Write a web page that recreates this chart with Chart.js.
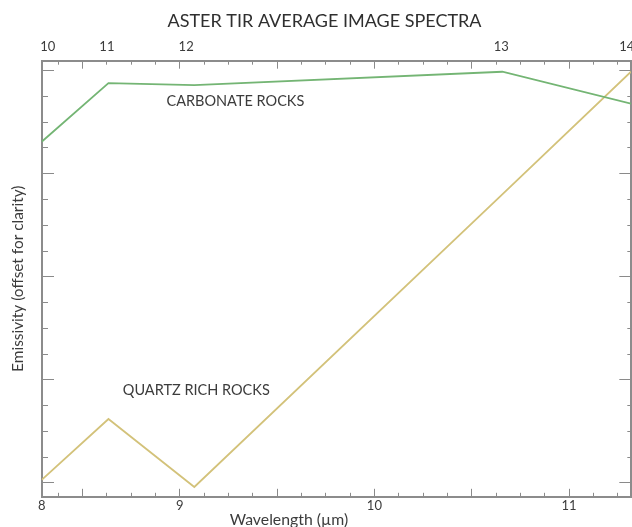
<!DOCTYPE html>
<html>
<head>
<meta charset="utf-8">
<title>ASTER TIR average image spectra</title>
<script src="https://cdn.jsdelivr.net/npm/chart.js@4.4.1/dist/chart.umd.min.js"></script>
<style>
  html, body { margin: 0; padding: 0; background: #fff; overflow: hidden; }
  /* a little wider than the window: the right edge of the plot is cut off like in the scan */
  .chart-box { position: relative; width: 645px; height: 527px; }
</style>
</head>
<body>
<div class="chart-box"><canvas id="spectra"></canvas></div>
<script>
// ASTER TIR band centres (um) and the band numbers printed on the top axis
var bandWavelengths = [8.291, 8.634, 9.075, 10.657, 11.318];
var bandNumbers = ['10', '11', '12', '13', '14'];
// the band numbers are printed slightly off their band centres
var bandLabelPositions = [8.322, 8.626, 9.033, 10.652, 11.296];

// average image emissivity (offset for clarity)
var carbonateRocks = [0.931, 0.988, 0.986, 0.999, 0.968];
var quartzRichRocks = [0.603, 0.662, 0.596, 0.880, 0.999];

// bottom axis: "8" is printed on the left edge of the plot
var wavelengthTicks = [8.291, 9, 10, 11];
var wavelengthLabels = ['8', '9', '10', '11'];
var wavelengthMajorTicks = [8.5, 9, 9.5, 10, 10.5, 11];
var wavelengthMinorTicks = [8.375, 8.5, 8.625, 8.75, 8.875, 9, 9.125, 9.25, 9.375, 9.5, 9.625, 9.75,
                            9.875, 10, 10.125, 10.25, 10.375, 10.5, 10.625, 10.75, 10.875, 11, 11.125, 11.25];
var emissivityMajorTicks = [0.6, 0.7, 0.8, 0.9, 1.0];
var emissivityMinorTicks = [0.6, 0.625, 0.65, 0.675, 0.7, 0.725, 0.75, 0.775, 0.8, 0.825, 0.85, 0.875,
                            0.9, 0.925, 0.95, 0.975, 1.0];

// series names written inside the plot
var seriesNotes = ['CARBONATE ROCKS', 'QUARTZ RICH ROCKS'];
var seriesNotesX = [9.286, 9.085];
var seriesNotesY = [0.970, 0.690];

(function () {
	'use strict';

	var FONT = 'Lato, "Open Sans", sans-serif';
	var AXIS = '#8c8c8c';
	var TICK = '#8a8a8a';
	var TEXT = '#3c3c3c';
	var xMin = 8.291, xMax = 11.318;
	var yMin = 0.5865, yMax = 1.0097;

	function points(ys) {
		return bandWavelengths.map(function (w, i) { return { x: w, y: ys[i] }; });
	}

	function setTicks(values) {
		return function (scale) {
			scale.ticks = values.map(function (v) { return { value: v }; });
		};
	}

	function fixHeight(h) {
		return function (scale) { scale.height = h; };
	}

	// grid lines dashed so only a short piece shows at each edge: inward tick marks
	function edgeDash(len, vertical) {
		return function (c) {
			var a = c.chart.chartArea;
			var span = a ? (vertical ? a.bottom - a.top : a.right - a.left) : 500;
			return [len, Math.max(span - 2 * len, 0), len, span + 50];
		};
	}

	function tickAxis(position, axis, values, len) {
		return {
			type: 'linear',
			position: position,
			axis: axis,
			min: axis === 'x' ? xMin : yMin,
			max: axis === 'x' ? xMax : yMax,
			afterBuildTicks: setTicks(values),
			afterFit: function (s) { if (axis === 'x') s.height = 0; else s.width = 0; },
			ticks: { display: false },
			grid: { display: true, drawTicks: false, drawOnChartArea: true, color: TICK, lineWidth: 1 },
			border: { display: false, dash: edgeDash(len, axis === 'x') }
		};
	}

	var seriesNotesPlugin = {
		id: 'seriesNotes',
		afterDatasetsDraw: function (chart) {
			var ctx = chart.ctx;
			var x = chart.scales.x, y = chart.scales.y;
			ctx.save();
			ctx.font = '14.5px ' + FONT;
			ctx.fillStyle = TEXT;
			ctx.textAlign = 'center';
			ctx.textBaseline = 'middle';
			seriesNotes.forEach(function (t, i) {
				ctx.fillText(t, x.getPixelForValue(seriesNotesX[i]), y.getPixelForValue(seriesNotesY[i]));
			});
			ctx.restore();
		}
	};

	new Chart(document.getElementById('spectra'), {
		type: 'line',
		data: {
			datasets: [
				{
					label: 'Carbonate rocks',
					data: points(carbonateRocks),
					borderColor: '#74b574',
					borderWidth: 1.8,
					pointRadius: 0,
					pointHoverRadius: 0,
					tension: 0,
					fill: false
				},
				{
					label: 'Quartz rich rocks',
					data: points(quartzRichRocks),
					borderColor: '#d3c27a',
					borderWidth: 1.8,
					pointRadius: 0,
					pointHoverRadius: 0,
					tension: 0,
					fill: false
				}
			]
		},
		options: {
			responsive: true,
			maintainAspectRatio: false,
			animation: false,
			layout: { autoPadding: false, padding: { left: 0, right: 14, top: 0, bottom: 0 } },
			plugins: {
				legend: { display: false },
				tooltip: { enabled: false },
				title: {
					display: true,
					text: '\u2002\u2002ASTER TIR AVERAGE IMAGE SPECTRA',
					color: '#2f2f2f',
					font: { family: FONT, size: 18, weight: 'normal', lineHeight: 1.2 },
					padding: { top: 10.2, bottom: 8.7 }
				}
			},
			scales: {
				x: {
					type: 'linear',
					position: 'bottom',
					min: xMin,
					max: xMax,
					afterBuildTicks: setTicks(wavelengthTicks),
					afterFit: fixHeight(30.2),
					ticks: {
						autoSkip: false, maxRotation: 0, padding: 3, color: TEXT,
						font: { family: FONT, size: 13, lineHeight: 1 },
						callback: function (v, i) { return wavelengthLabels[i]; }
					},
					grid: { display: false, drawTicks: false },
					border: { display: true, color: AXIS, width: 2 },
					title: {
						display: true,
						text: 'Wavelength (\u00b5m)' + '\u2002\u2002\u2002\u2002\u2002\u2002\u2002\u2002\u2002\u2002\u2002\u2002',
						color: TEXT,
						font: { family: FONT, size: 15.8, lineHeight: 0.9 },
						padding: { top: 0, bottom: 0 }
					}
				},
				xMinor: tickAxis('bottom', 'x', wavelengthMinorTicks, 4),
				xMajor: tickAxis('bottom', 'x', wavelengthMajorTicks, 8),
				xTop: {
					type: 'linear',
					position: 'top',
					min: xMin,
					max: xMax,
					afterBuildTicks: setTicks(bandLabelPositions),
					afterFit: fixHeight(20.2),
					ticks: {
						autoSkip: false, maxRotation: 0, padding: 7.2, color: TEXT,
						font: { family: FONT, size: 13, lineHeight: 1 },
						callback: function (v, i) { return bandNumbers[i]; }
					},
					grid: { display: false, drawTicks: false },
					border: { display: true, color: AXIS, width: 2 }
				},
				y: {
					type: 'linear',
					position: 'left',
					min: yMin,
					max: yMax,
					afterBuildTicks: setTicks(emissivityMinorTicks),
					ticks: { display: false },
					grid: { display: true, drawTicks: false, color: TICK, lineWidth: 1 },
					border: { display: true, color: AXIS, width: 2, dash: edgeDash(5, false) },
					title: {
						display: true,
						text: 'Emissivity (offset for clarity)',
						color: TEXT,
						font: { family: FONT, size: 15.4, lineHeight: 1.2 },
						padding: { top: 8.8, bottom: 14.4 }
					}
				},
				yMajor: tickAxis('left', 'y', emissivityMajorTicks, 12),
				yRight: {
					type: 'linear',
					position: 'right',
					min: yMin,
					max: yMax,
					afterFit: function (s) { s.width = 0; },
					ticks: { display: false },
					grid: { display: false, drawTicks: false },
					border: { display: true, color: AXIS, width: 2 }
				}
			}
		},
		plugins: [seriesNotesPlugin]
	});
})();
</script>
</body>
</html>
